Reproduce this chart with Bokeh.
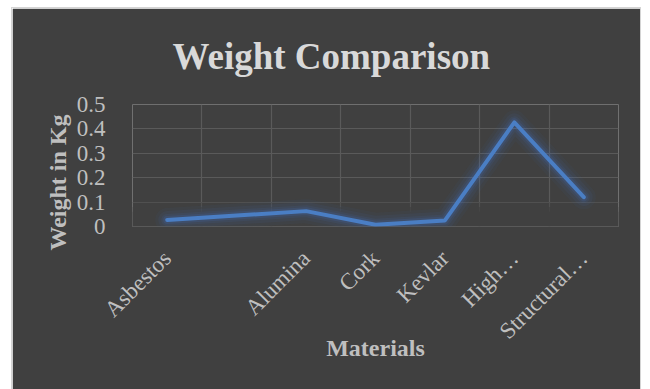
import math
from bokeh.plotting import figure
from bokeh.models import FixedTicker, Range1d, BoxAnnotation, Title
from bokeh.embed import file_html
from bokeh.resources import INLINE

categories = ["Asbestos", "", "Alumina", "Cork", "Kevlar", "High…", "Structural…"]
weights = [0.027, 0.045, 0.063, 0.007, 0.025, 0.427, 0.12]
y_ticks = [0, 0.1, 0.2, 0.3, 0.4, 0.5]
y_tick_labels = ["0", "0.1", "0.2", "0.3", "0.4", "0.5"]

xs = list(range(1, len(categories) + 1))
FONT = "Liberation Serif"
BG = "#404040"

p = figure(width=628, height=381, output_backend="svg", toolbar_location=None,
           x_range=Range1d(0.5, len(categories) + 0.5), y_range=Range1d(0, 0.5),
           min_border_left=120, min_border_right=22, min_border_top=96,
           min_border_bottom=163, background_fill_color=BG,
           border_fill_color=BG, outline_line_color=None)
p.margin = (8, 0, 0, 12)
p.styles = {"outline": "1px solid #d4d4d4"}

p.add_layout(Title(text="Weight Comparison", align="left", vertical_align="top",
                   text_font=FONT, text_font_size="37px", text_font_style="bold",
                   text_color="#d9d9d9", offset=40, standoff=52), "above")

# axes
for ax in (p.xaxis, p.yaxis):
    ax.axis_line_color = None
    ax.major_tick_line_color = None
    ax.minor_tick_line_color = None
    ax.major_label_text_font = FONT
    ax.major_label_text_font_size = "23px"
    ax.major_label_text_color = "#bfbfbf"
    ax.axis_label_text_font = FONT
    ax.axis_label_text_font_size = "24px"
    ax.axis_label_text_font_style = "bold"
    ax.axis_label_text_color = "#bfbfbf"

p.yaxis.ticker = FixedTicker(ticks=y_ticks)
p.yaxis.major_label_overrides = {t: l for t, l in zip(y_ticks, y_tick_labels)}
p.yaxis.major_label_standoff = 21

# y axis title (starts a little below the plot bottom, like the original)
p.add_layout(Title(text="Weight in Kg", align="left", vertical_align="bottom",
                   text_font=FONT, text_font_size="24px", text_font_style="bold",
                   text_color="#bfbfbf", offset=-24, standoff=6), "left")

p.xaxis.ticker = FixedTicker(ticks=xs)
p.xaxis.major_label_overrides = {x: c for x, c in zip(xs, categories)}
p.xaxis.major_label_orientation = math.pi / 4
p.xaxis.major_label_standoff = 22
p.xaxis.axis_label = "Materials"
p.xaxis.axis_label_standoff = -21

# grid
p.xgrid.ticker = FixedTicker(ticks=[x - 0.5 for x in xs] + [xs[-1] + 0.5])
p.ygrid.ticker = FixedTicker(ticks=y_ticks[1:])
p.grid.grid_line_color = "#5a5a5a"
p.grid.grid_line_width = 1.2

# fade of grid near the bottom
for top, alpha in [(0.06, 1.0), (0.08, 0.7), (0.1, 0.4)]:
    p.add_layout(BoxAnnotation(bottom=0, top=top, fill_color=BG, fill_alpha=alpha,
                               line_color=None, level="underlay"))

# glow
for w, a in [(24, 0.05), (18, 0.07), (12, 0.1), (8, 0.16)]:
    p.line(xs, weights, line_width=w, line_color="#4472c4", line_alpha=a,
           line_join="round", line_cap="round")
p.line(xs, weights, line_width=4, line_color="#4a7ec4",
       line_join="round", line_cap="round")

open("out.html", "w").write(file_html(p, INLINE))
